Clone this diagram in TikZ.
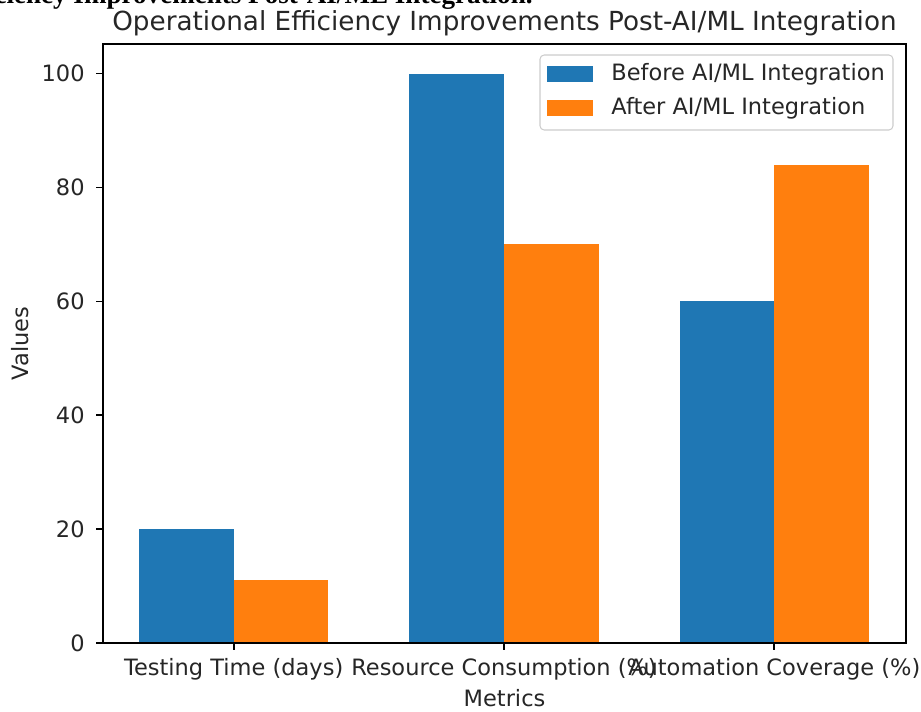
\documentclass[tikz,border=0pt]{standalone}
\usepackage{fontspec}
\setmainfont{DejaVu Sans}
\newfontfamily\capfont{Liberation Serif}
\usepackage{tikz}
\usetikzlibrary{positioning}
\definecolor{beforeblue}{HTML}{1F77B4}
\definecolor{afterorange}{HTML}{FF7F0E}

\begin{document}
\begin{tikzpicture}[
        x=0.48pt, y=-0.48pt,
        every node/.style={font=\fontsize{10.8}{13}\selectfont, inner sep=0pt, text=black!85},
        barbefore/.style={fill=beforeblue},
        barafter/.style={fill=afterorange},
        tickmark/.style={line width=0.8pt},
        frame/.style={line width=0.8pt},
        legendbox/.style={draw=black!20, fill=white, rounded corners=2pt, line width=0.5pt}
    ]
    \useasboundingbox (0,0) rectangle (921,711);

    % Caption, cut off at the top of the page
    \node (caption) [anchor=base east, text=black, font=\capfont\bfseries\fontsize{13}{15}\selectfont] at (533,4) {Operational Efficiency Improvements Post-AI/ML Integration.};

    % Bars
    \foreach \i/\before/\after/\metric in {0/20/11/Testing Time (days), 1/100/70/Resource Consumption (\%), 2/60/84/Automation Coverage (\%)} {
        \pgfmathsetmacro{\cx}{233.7+270.3*\i}
        \fill [barbefore] ({\cx-94.6},643) rectangle (\cx,{643-5.694*\before});
        \fill [barafter] (\cx,643) rectangle ({\cx+94.6},{643-5.694*\after});
        \draw [tickmark] (\cx,643) -- (\cx,650.3);
        \node (xtick\i) [anchor=north] at (\cx,658) {\metric};
    }

    % Y axis ticks
    \foreach \v in {0,20,...,100} {
        \draw [tickmark] (96,{643-5.694*\v}) -- (103.3,{643-5.694*\v});
        \node (ytick\v) [anchor=east] at (85,{643-5.694*\v}) {\v};
    }

    % Frame
    \draw [frame] (103.3,44) rectangle (906,643);

    % Labels
    \node (title) [anchor=base, font=\fontsize{12.6}{15}\selectfont] at (504.5,31) {Operational Efficiency Improvements Post-AI/ML Integration};
    \node (xlabel) [anchor=north] at (504.5,689) {Metrics};
    \node (ylabel) [rotate=90] at (20,343.5) {Values};

    % Legend
    \draw [legendbox] (540,55) rectangle (893,130);
    \fill [barbefore] (547,66) rectangle (593,82);
    \fill [barafter] (547,100) rectangle (593,116);
    \node (before) [anchor=west] at (611,74) {Before AI/ML Integration};
    \node (after) [anchor=west] at (611,108) {After AI/ML Integration};

\end{tikzpicture}
\end{document}
